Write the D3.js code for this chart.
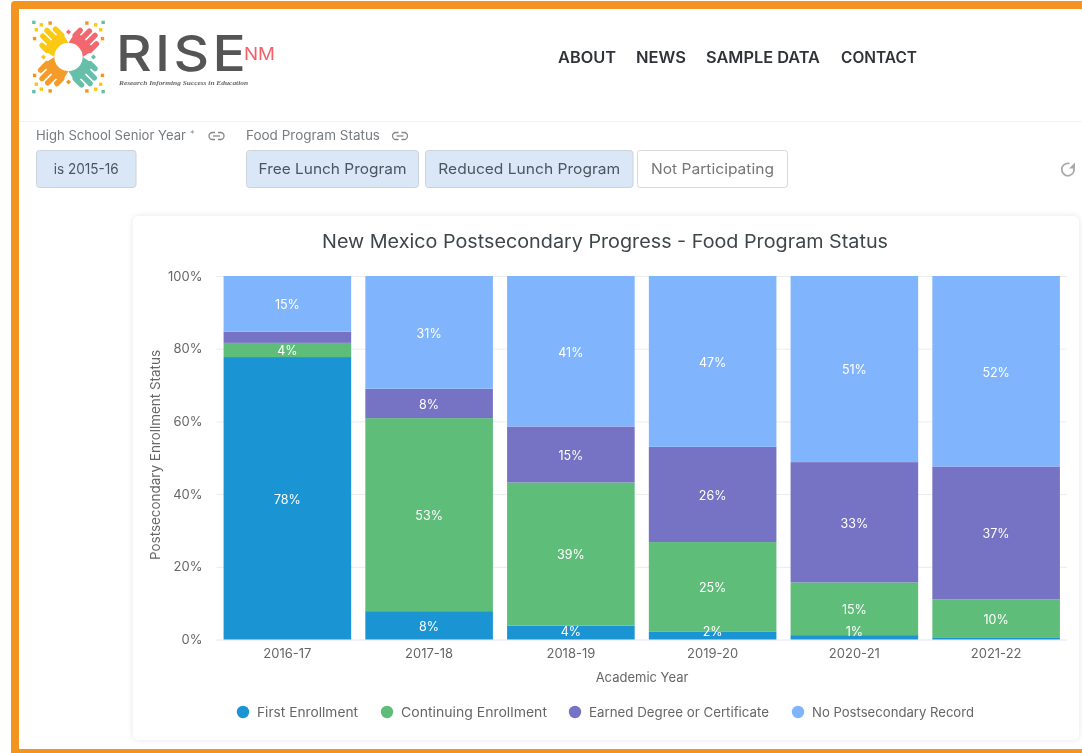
<!DOCTYPE html>
<html>
<head>
<meta charset="utf-8">
<script src="https://cdn.jsdelivr.net/npm/d3@7"></script>
<style>
    html, body { margin: 0; padding: 0; background: #fff; overflow: hidden; }
    svg { display: block; font-family: Inter, "Open Sans", sans-serif; filter: blur(0.35px); }
</style>
</head>
<body>
<div id="chart"></div>
<script>
// chart data
const years = ['2016-17', '2017-18', '2018-19', '2019-20', '2020-21', '2021-22'];
const seriesNames = ['First Enrollment', 'Continuing Enrollment', 'Earned Degree or Certificate', 'No Postsecondary Record'];
const firstEnrollment = [77.7, 7.8, 3.8, 2.1, 1.2, 0.6];
const continuingEnrollment = [3.9, 53.1, 39.4, 24.7, 14.5, 10.4];
const earnedDegree = [3.1, 8.1, 15.4, 26.2, 33.1, 36.6];
const noRecord = [15.3, 31.0, 41.4, 47.0, 51.2, 52.4];
const seriesColors = ['#1a94d3', '#5ebd79', '#7672c4', '#80b5fe'];
const yTicks = [0, 20, 40, 60, 80, 100];
const navItems = ['ABOUT', 'NEWS', 'SAMPLE DATA', 'CONTACT'];
const navX = [558, 636, 706, 841];
const navW = [58, 50, 114, 76];
const filterButtons = [
    { label: 'is 2015-16', x: 36, w: 99.5, tw: 65, on: true },
    { label: 'Free Lunch Program', x: 246, w: 172, tw: 148, on: true },
    { label: 'Reduced Lunch Program', x: 425, w: 207.5, tw: 182, on: true },
    { label: 'Not Participating', x: 637, w: 150, tw: 123, on: false }
];

const svg = d3.select('#chart').append('svg')
    .attr('width', 1082)
    .attr('height', 753);

// page frame
svg.append('rect').attr('width', 1082).attr('height', 753).attr('fill', '#fff');
svg.append('path')
    .attr('d', 'M11 753V5Q11 1 15 1H1082V9H19V749H1082V753Z')
    .attr('fill', '#f49420');

// header
drawLogo(svg.append('g'));

svg.append('text').attr('x', 116).attr('y', 71)
    .attr('font-size', 49.5).attr('font-weight', 500).attr('fill', '#555')
    .attr('letter-spacing', 3)
    .attr('textLength', 133).attr('lengthAdjust', 'spacingAndGlyphs')
    .text('RISE');
svg.append('text').attr('x', 244).attr('y', 60)
    .attr('font-size', 17).attr('fill', '#f2616a')
    .attr('textLength', 31).attr('lengthAdjust', 'spacingAndGlyphs')
    .text('NM');
svg.append('text').attr('x', 119).attr('y', 84.5)
    .attr('font-size', 6.4).attr('font-style', 'italic').attr('font-weight', 600)
    .attr('font-family', '"Liberation Serif", serif').attr('fill', '#666')
    .attr('textLength', 129).attr('lengthAdjust', 'spacingAndGlyphs')
    .text('Research Informing Success in Education');

svg.selectAll('.nav').data(navItems).join('text')
    .attr('class', 'nav')
    .attr('x', (d, i) => navX[i])
    .attr('y', 63)
    .attr('font-size', 15.5)
    .attr('font-weight', 600)
    .attr('fill', '#2f3237')
    .attr('textLength', (d, i) => navW[i])
    .attr('lengthAdjust', 'spacingAndGlyphs')
    .text(d => d);

svg.append('line').attr('x1', 19).attr('x2', 1082).attr('y1', 121.5).attr('y2', 121.5).attr('stroke', '#f1f1f1');

// filter bar
svg.append('text').attr('x', 36).attr('y', 140).attr('font-size', 13).attr('fill', '#777c80')
    .attr('textLength', 150).attr('lengthAdjust', 'spacingAndGlyphs').text('High School Senior Year');
svg.append('text').attr('x', 190).attr('y', 137).attr('font-size', 9).attr('fill', '#8a8e92').text('*');
svg.append('text').attr('x', 246).attr('y', 140).attr('font-size', 13).attr('fill', '#777c80')
    .attr('textLength', 134).attr('lengthAdjust', 'spacingAndGlyphs').text('Food Program Status');
[216.5, 400].forEach(x => drawLink(svg.append('g').attr('transform', `translate(${x},136)`)));

const buttons = svg.selectAll('.filter').data(filterButtons).join('g').attr('class', 'filter');
buttons.append('rect')
    .attr('x', d => d.x + 0.5).attr('y', 150.5)
    .attr('width', d => d.w).attr('height', 37).attr('rx', 3)
    .attr('fill', d => d.on ? '#dae7f7' : '#fff')
    .attr('stroke', d => d.on ? '#ccd3dd' : '#d8d8d8');
buttons.append('text')
    .attr('x', d => d.x + d.w / 2 + 0.5).attr('y', 174)
    .attr('text-anchor', 'middle').attr('font-size', 14.5)
    .attr('fill', d => d.on ? '#4d5560' : '#777')
    .attr('textLength', d => d.tw).attr('lengthAdjust', 'spacingAndGlyphs')
    .text(d => d.label);

// refresh icon
svg.append('path')
    .attr('d', d3.arc()({ innerRadius: 6.2, outerRadius: 6.2, startAngle: 0.9, endAngle: 2 * Math.PI + 0.25 }))
    .attr('transform', 'translate(1068,169.5)')
    .attr('fill', 'none').attr('stroke', '#a8a8a8').attr('stroke-width', 1.7);
svg.append('path').attr('d', 'M1075 162.5V168.5H1069Z').attr('fill', '#a8a8a8');

// chart card
const defs = svg.append('defs');
const shadow = defs.append('filter').attr('id', 'card-shadow')
    .attr('x', '-5%').attr('y', '-5%').attr('width', '110%').attr('height', '110%');
shadow.append('feDropShadow').attr('dx', 0).attr('dy', 0).attr('stdDeviation', 3)
    .attr('flood-color', '#000').attr('flood-opacity', 0.1);
svg.append('rect')
    .attr('x', 133).attr('y', 216).attr('width', 946).attr('height', 524).attr('rx', 6)
    .attr('fill', '#fff').attr('filter', 'url(#card-shadow)');

svg.append('text').attr('x', 605).attr('y', 247.5)
    .attr('text-anchor', 'middle').attr('font-size', 18.5).attr('fill', '#3f4649')
    .attr('textLength', 566).attr('lengthAdjust', 'spacingAndGlyphs')
    .text('New Mexico Postsecondary Progress - Food Program Status');

// scales
const margin = { left: 216.5, right: 1067, top: 276, bottom: 639.5 };
const x = d3.scaleBand().domain(years).range([margin.left, margin.right]).paddingInner(0.1).paddingOuter(0.05);
const y = d3.scaleLinear().domain([0, 100]).range([margin.bottom, margin.top]);

const rows = years.map((year, i) => ({
    year,
    [seriesNames[0]]: firstEnrollment[i],
    [seriesNames[1]]: continuingEnrollment[i],
    [seriesNames[2]]: earnedDegree[i],
    [seriesNames[3]]: noRecord[i]
}));
const stacked = d3.stack().keys(seriesNames)(rows);

// gridlines and axes
const yAxis = svg.append('g')
    .attr('transform', `translate(${margin.left},0)`)
    .call(d3.axisLeft(y).tickValues(yTicks).tickFormat(d => d + '%').tickSize(-(margin.right - margin.left)).tickPadding(14));
yAxis.select('.domain').remove();
yAxis.selectAll('line').attr('stroke', d => d === 0 ? '#e4e8f2' : '#ececec');
yAxis.selectAll('text').attr('font-size', 13).attr('font-family', 'Inter').attr('fill', '#666');

const xAxis = svg.append('g')
    .attr('transform', `translate(0,${margin.bottom})`)
    .call(d3.axisBottom(x).tickSize(0).tickPadding(9));
xAxis.select('.domain').remove();
xAxis.selectAll('text').attr('font-size', 13).attr('font-family', 'Inter').attr('fill', '#666');

svg.append('text').attr('x', 642).attr('y', 682)
    .attr('text-anchor', 'middle').attr('font-size', 13).attr('fill', '#666')
    .text('Academic Year');
svg.append('text')
    .attr('transform', 'translate(160,455) rotate(-90)')
    .attr('text-anchor', 'middle').attr('font-size', 13).attr('fill', '#666')
    .attr('textLength', 210).attr('lengthAdjust', 'spacingAndGlyphs')
    .text('Postsecondary Enrollment Status');

// bars
const layers = svg.selectAll('.layer').data(stacked).join('g')
    .attr('class', 'layer')
    .attr('fill', (d, i) => seriesColors[i]);
layers.selectAll('rect').data(d => d).join('rect')
    .attr('x', d => x(d.data.year))
    .attr('y', d => y(d[1]))
    .attr('width', x.bandwidth())
    .attr('height', d => y(d[0]) - y(d[1]));

// value labels, the thinnest segments get none
const labels = stacked.flatMap(layer => layer.map(d => ({ year: d.data.year, lo: d[0], hi: d[1], v: d[1] - d[0] })))
    .filter(d => d.v >= 1 && !(d.v < 3.5 && d.lo > 50));
svg.selectAll('.value').data(labels).join('text')
    .attr('class', 'value')
    .attr('x', d => x(d.year) + x.bandwidth() / 2)
    .attr('y', d => Math.min((y(d.lo) + y(d.hi)) / 2 + 1, margin.bottom - 7.5))
    .attr('dy', '.35em')
    .attr('text-anchor', 'middle')
    .attr('font-size', 12.5)
    .attr('fill', '#fff')
    .text(d => Math.round(d.v) + '%');

// legend
const legendX = [243, 387, 575, 798];
const legendW = [101, 146, 180, 162];
const legend = svg.selectAll('.legend').data(seriesNames).join('g')
    .attr('class', 'legend')
    .attr('transform', (d, i) => `translate(${legendX[i]},712)`);
legend.append('circle').attr('r', 6.2).attr('fill', (d, i) => seriesColors[i]);
legend.append('text').attr('x', 14).attr('dy', '.35em')
    .attr('font-size', 13).attr('fill', '#666')
    .attr('textLength', (d, i) => legendW[i]).attr('lengthAdjust', 'spacingAndGlyphs')
    .text(d => d);

// small chain icon next to the filter labels
function drawLink(g) {
    g.attr('fill', 'none').attr('stroke', '#858585').attr('stroke-width', 1.3);
    g.append('path').attr('d', 'M-1.5 -3.5H-4a3.5 3.5 0 0 0 0 7H-1.5');
    g.append('path').attr('d', 'M1.5 -3.5H4a3.5 3.5 0 0 1 0 7H1.5');
    g.append('path').attr('d', 'M-3.5 0H3.5');
}

// RISE logo: four hands around a circle, with little squares out along the diagonals
function drawLogo(g) {
    const cx = 68.5, cy = 57;
    const hands = [
        { color: '#fbc913', angle: -135 },
        { color: '#f2686e', angle: -45 },
        { color: '#f49b2a', angle: 135 },
        { color: '#66bfa8', angle: 45 }
    ];
    const fingers = [[-10.5, 27], [-3.5, 33], [3.5, 34], [10.5, 29]];
    const dots = [[49, 0, '#66bfa8'], [42, -3.5, '#fbc913'], [42, 3.5, '#fbc913'], [37, -11, '#f49420'], [37, 11, '#f49420']];
    hands.forEach(h => {
        const hand = g.append('g').attr('transform', `translate(${cx},${cy}) rotate(${h.angle})`);
        hand.append('path').attr('d', 'M10 -10A14.1 14.1 0 0 1 10 10L24 13L24 -13Z').attr('fill', h.color);
        fingers.forEach(f => {
            hand.append('line')
                .attr('x1', 20).attr('y1', f[0]).attr('x2', f[1]).attr('y2', f[0])
                .attr('stroke', h.color).attr('stroke-width', 5.4).attr('stroke-linecap', 'round');
        });
        dots.forEach(p => {
            hand.append('rect')
                .attr('x', p[0] - 1.7).attr('y', p[1] - 1.7).attr('width', 3.4).attr('height', 3.4)
                .attr('transform', `rotate(${-h.angle},${p[0]},${p[1]})`)
                .attr('fill', p[2]);
        });
    });
    // diamonds on the axes between the hands
    [[0, -25, '#f2686e'], [-25, 0, '#fbc913'], [25, 0, '#66bfa8'], [0, 25, '#f49420']].forEach(p => {
        g.append('rect')
            .attr('x', -1.8).attr('y', -1.8).attr('width', 3.6).attr('height', 3.6)
            .attr('transform', `translate(${cx + p[0]},${cy + p[1]}) rotate(45)`)
            .attr('fill', p[2]);
    });
}
</script>
</body>
</html>
